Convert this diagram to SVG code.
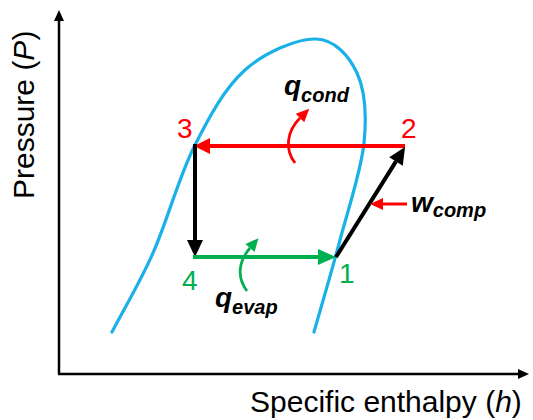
<svg xmlns="http://www.w3.org/2000/svg" width="533" height="420" viewBox="0 0 533 420">
<style>
.txt{font-family:"Liberation Sans",Arial,sans-serif;}
.ax{font-size:30px;fill:#000;}
.num{font-size:28px;}
.lbl{font-size:28px;font-weight:bold;font-style:italic;fill:#000;}
.sub{font-size:20px;}
.axis{stroke:#000;stroke-width:2.5;fill:none;}
.dome{stroke:#1AB0E8;stroke-width:3.2;fill:none;stroke-linecap:round;}
</style>
<defs>
<marker id="ahAx" markerUnits="userSpaceOnUse" markerWidth="12" markerHeight="12" refX="0" refY="5" orient="auto" overflow="visible"><path d="M0,0 L11,5 L0,10 z" fill="#000"/></marker>
<marker id="ahRed" markerUnits="userSpaceOnUse" markerWidth="18" markerHeight="18" refX="0" refY="8" orient="auto" overflow="visible"><path d="M0,0 L16,8 L0,16 z" fill="#FF0000"/></marker>
<marker id="ahBlk" markerUnits="userSpaceOnUse" markerWidth="18" markerHeight="18" refX="0" refY="8" orient="auto" overflow="visible"><path d="M0,0 L17,8 L0,16 z" fill="#000"/></marker>
<marker id="ahGrn" markerUnits="userSpaceOnUse" markerWidth="18" markerHeight="18" refX="0" refY="8" orient="auto" overflow="visible"><path d="M0,0 L18,8 L0,16 z" fill="#00B050"/></marker>
<marker id="ahRedS" markerUnits="userSpaceOnUse" markerWidth="14" markerHeight="14" refX="0" refY="6" orient="auto" overflow="visible"><path d="M0,0 L13,6 L0,12 z" fill="#FF0000"/></marker>
<marker id="ahGrnS" markerUnits="userSpaceOnUse" markerWidth="14" markerHeight="14" refX="0" refY="6" orient="auto" overflow="visible"><path d="M0,0 L13,6 L0,12 z" fill="#00B050"/></marker>
</defs>

<g id="axes">
<path class="axis" d="M59,374 L59,21" marker-end="url(#ahAx)"/>
<path class="axis" d="M58,374 L518,374" marker-end="url(#ahAx)"/>
<text class="txt ax" x="250" y="412">Specific enthalpy (<tspan font-style="italic">h</tspan>)</text>
<text class="txt ax" transform="translate(34,199) rotate(-90)">Pressure (<tspan font-style="italic">P</tspan>)</text>
</g>

<g id="dome">
<path class="dome" d="M112,332 C125.7,305.7 139.3,283.8 153,253 C166.7,222.2 178.7,177.5 194,147 C209.3,116.5 224.7,88 245,70 C265.3,52 297.3,38.5 316,39 C334.7,39.5 349,55.7 357,73 C365,90.3 366.8,115.2 364,143 C361.2,170.8 348.3,208.5 340,240 C331.7,271.5 322.7,301.3 314,332"/>
</g>

<g id="connectors">
<path d="M405,146 L210,146" stroke="#FF0000" stroke-width="4" fill="none" marker-end="url(#ahRed)"/>
<path d="M195,144 L195,240" stroke="#000" stroke-width="4" fill="none" marker-end="url(#ahBlk)"/>
<path d="M193,257 L318,257" stroke="#00B050" stroke-width="4" fill="none" marker-end="url(#ahGrn)"/>
<path d="M336,257 L396,161.4" stroke="#000" stroke-width="4" fill="none" marker-end="url(#ahBlk)"/>
<path d="M407,204 L383,204" stroke="#FF0000" stroke-width="3" fill="none" marker-end="url(#ahRedS)"/>
<path d="M295,163 C285,150 286,132 300,118" stroke="#FF0000" stroke-width="2.8" fill="none" marker-end="url(#ahRedS)"/>
<path d="M247,291 C237,278 238,262 250,248" stroke="#00B050" stroke-width="2.8" fill="none" marker-end="url(#ahGrnS)"/>
</g>

<g id="node-1"><text class="txt num" x="339" y="283" fill="#00B050">1</text></g>
<g id="node-2"><text class="txt num" x="401" y="138" fill="#FF0000">2</text></g>
<g id="node-3"><text class="txt num" x="177" y="138" fill="#FF0000">3</text></g>
<g id="node-4"><text class="txt num" x="182" y="290" fill="#00B050">4</text></g>

<g id="label-qcond"><text class="txt lbl" x="284" y="95">q<tspan class="sub" dy="7">cond</tspan></text></g>
<g id="label-qevap"><text class="txt lbl" x="215" y="307">q<tspan class="sub" dy="7">evap</tspan></text></g>
<g id="label-wcomp"><text class="txt lbl" x="411" y="212">w<tspan class="sub" dy="5">comp</tspan></text></g>
</svg>
